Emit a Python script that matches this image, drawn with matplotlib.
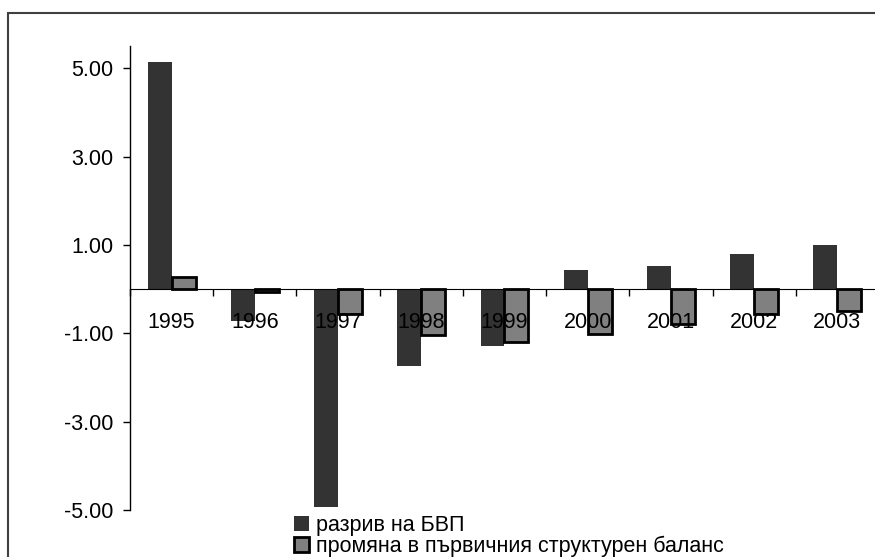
import numpy as np
import matplotlib
matplotlib.use('Agg')
import matplotlib.pyplot as plt
from matplotlib.patches import Rectangle

plt.rcParams['font.family'] = ['Liberation Sans', 'DejaVu Sans']

# data
years = ['1995', '1996', '1997', '1998', '1999', '2000', '2001', '2002', '2003']
gap = [5.15, -0.71, -4.93, -1.74, -1.29, 0.44, 0.53, 0.80, 1.00]
balance = [0.27, -0.05, -0.56, -1.03, -1.19, -1.02, -0.79, -0.56, -0.49]
lab_gap = 'разрив на БВП'
lab_bal = 'промяна в първичния структурен баланс'
yticks = [-5, -3, -1, 1, 3, 5]

W, H = 875, 557
fs = 15.5
fig = plt.figure(figsize=(W/100, H/100), dpi=100)
ax = fig.add_axes([130/W, 1-510.3/H, 749/W, 464.1/H])
ax.set_axisbelow(False)

x = np.arange(len(years))
bw = 0.288
ax.bar(x - bw/2, gap, bw, color='#333333', label=lab_gap, zorder=2)
ax.bar(x + bw/2, balance, bw, color='#808080', edgecolor='black', linewidth=2,
       label=lab_bal, zorder=2)

ax.set_xlim(-0.5, len(years) - 0.5)
ax.set_ylim(-5, 5.5)

ax.spines['top'].set_visible(False)
ax.spines['right'].set_visible(False)
ax.spines['bottom'].set_position(('data', 0))
ax.spines['bottom'].set_zorder(3)
ax.spines['left'].set_linewidth(1)

ax.set_yticks(yticks)
ax.set_yticklabels(['%.2f' % v for v in yticks], fontsize=fs)
ax.tick_params(axis='y', length=5, width=1, pad=7)

ax.set_xticks(x)
ax.set_xticklabels(years, fontsize=fs)
ax.tick_params(axis='x', which='major', length=0, pad=16)
ax.set_xticks(np.arange(len(years) + 1) - 0.5, minor=True)
ax.tick_params(axis='x', which='minor', length=5, width=1, direction='out')

fig.legend(loc='upper left', bbox_to_anchor=(294/W, 1-515/H), frameon=False,
           fontsize=fs, handlelength=0.7, handleheight=0.7,
           handletextpad=0.3, labelspacing=0.0, borderpad=0, borderaxespad=0)

# outer chart frame (cut off at right and bottom)
fig.patches.append(Rectangle((8/W, -0.1), 1.0, 1 - 13/H + 0.1,
                             transform=fig.transFigure, fill=False,
                             edgecolor='#404040', linewidth=1.5))

fig.savefig('out.png', dpi=100)
